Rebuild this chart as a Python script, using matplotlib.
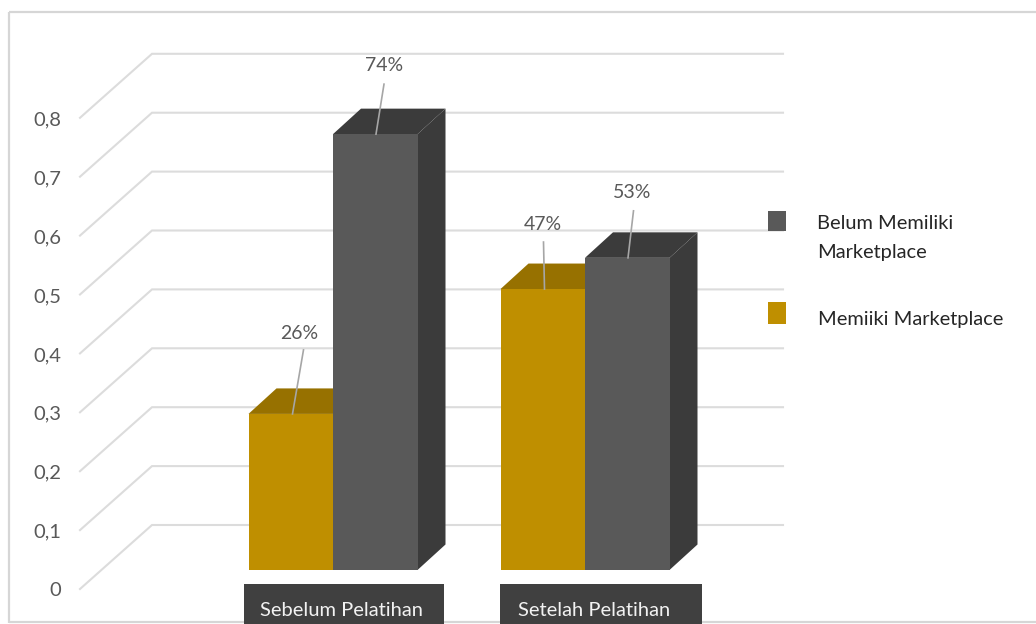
'''
bar chart with fake 3D boxes, marketplace before / after training
'''
# Load packages -------------------------------------------
import matplotlib
matplotlib.use('Agg')
import matplotlib.pyplot as plt
from matplotlib.patches import Polygon, Rectangle

# Data ----------------------------------------------------
categories = ['Sebelum Pelatihan', 'Setelah Pelatihan']
memiliki = [0.265, 0.477]
belum = [0.74, 0.53]
memiliki_labels = ['26%', '47%']
belum_labels = ['74%', '53%']
tick_values = [0, 0.1, 0.2, 0.3, 0.4, 0.5, 0.6, 0.7, 0.8]
tick_labels = ['0', '0,1', '0,2', '0,3', '0,4', '0,5', '0,6', '0,7', '0,8']

# Style ---------------------------------------------------
W, H = 1036, 624
plt.rcParams['font.family'] = ['Lato', 'DejaVu Sans']
gold, gold_dark = '#BF8F00', '#977100'
grey, grey_dark = '#595959', '#3B3B3B'
grid_col = '#DCDCDC'
txt_col = '#595959'

# Axes scale: one category = 252 px, one unit = 589 px
x0_px, y0_px = 333, 570
cat_px, val_px = 252, 589
bar_w = 84.5 / cat_px
depth_x, depth_y = 28 / cat_px, 25.5 / val_px


def px(x, y):
    # pixel position in the picture -> axes data
    return (x - x0_px) / cat_px, (y0_px - y) / val_px


fig = plt.figure(figsize=(W / 100, H / 100), dpi=100)
ax = fig.add_axes([0, 0, 1, 1])
ax.set_xlim(px(0, 0)[0], px(W, 0)[0])
ax.set_ylim(px(0, H)[1], px(0, 0)[1])
ax.axis('off')

# Frame ---------------------------------------------------
for a, b in [((9, 623), (9, 12)), ((9, 12), (W, 12)), ((9, 622), (W, 622))]:
    xa, ya = px(*a)
    xb, yb = px(*b)
    ax.plot([xa, xb], [ya, yb], color='#D6D6D6', lw=1.6, zorder=1, solid_capstyle='butt')

# Gridlines and axis labels -------------------------------
wall_dx, wall_dy = 72 / cat_px, 64 / val_px
front_x = px(80, 0)[0]
end_x = px(783, 0)[0]
floor = px(0, 589)[1]
for v, lab in zip(tick_values, tick_labels):
    y = floor + v
    ax.plot([front_x, front_x + wall_dx, end_x], [y, y + wall_dy, y + wall_dy],
            color=grid_col, lw=1.5, zorder=1, solid_joinstyle='miter')
    ax.text(px(61, 0)[0], y - 2 / val_px, lab, ha='right', va='center',
            fontsize=14.5, color=txt_col)


# Bars ----------------------------------------------------
def box(x_left, value, front, dark):
    x_right = x_left + bar_w
    ax.bar(x_left, value, bar_w, align='edge', color=front, zorder=4)
    ax.add_patch(Polygon([(x_left, value), (x_left + depth_x, value + depth_y),
                          (x_right + depth_x, value + depth_y), (x_right, value)],
                         closed=True, fc=dark, ec='none', zorder=3))
    ax.add_patch(Polygon([(x_right, 0), (x_right + depth_x, depth_y),
                          (x_right + depth_x, value + depth_y), (x_right, value)],
                         closed=True, fc=dark, ec='none', zorder=3))


for i in range(len(categories)):
    box(i - bar_w, memiliki[i], gold, gold_dark)
for i in range(len(categories)):
    box(i, belum[i], grey, grey_dark)


# Data labels with leader lines ---------------------------
def leader(x_bar, value, text, foot_px, tail_px, text_px):
    x_foot = x_bar + foot_px / cat_px
    xt = x_foot + tail_px[0] / cat_px
    yt = value + tail_px[1] / val_px
    ax.plot([x_foot, xt], [value, yt], color='#A6A6A6', lw=1.2, zorder=6)
    ax.text(x_foot + text_px[0] / cat_px, value + text_px[1] / val_px, text,
            ha='center', va='center', fontsize=14, color=txt_col, zorder=7)


mem_layout = [(44, (11, 64), (7, 80)), (44, (-1, 47), (-2, 65))]
bel_layout = [(43, (8, 50), (8, 69)), (43, (5.5, 47), (4, 65))]
for i in range(len(categories)):
    foot, tail, txt = mem_layout[i]
    leader(i - bar_w, memiliki[i], memiliki_labels[i], foot, tail, txt)
    foot, tail, txt = bel_layout[i]
    leader(i, belum[i], belum_labels[i], foot, tail, txt)

# Category boxes ------------------------------------------
box_left = [244, 500]
box_right = [444, 702]
box_text = [342, 594.5]
for i, cat in enumerate(categories):
    xl = px(box_left[i], 0)[0]
    xr = px(box_right[i], 0)[0]
    yt, yb = px(0, 584)[1], px(0, 624)[1]
    ax.add_patch(Rectangle((xl, yb), xr - xl, yt - yb, fc='#404040', ec='none', zorder=5))
    ax.text(px(box_text[i], 0)[0], px(0, 611)[1], cat, ha='center', va='center',
            fontsize=14.5, color='#F2F2F2', zorder=6)

# Legend --------------------------------------------------
legend_items = [('Belum Memiliki\nMarketplace', grey, 211, 231, 817, 238),
                ('Memiiki Marketplace', gold, 302, 324, 818, 319)]
for lab, col, top, bot, tx, ty in legend_items:
    xl = px(768, 0)[0]
    xr = px(786, 0)[0]
    ax.add_patch(Rectangle((xl, px(0, bot)[1]), xr - xl, (bot - top) / val_px,
                           fc=col, ec='none', zorder=3))
    ax.text(px(tx, 0)[0], px(0, ty)[1], lab, ha='left', va='center', fontsize=14.4,
            color='#262626', linespacing=1.85, zorder=3)

# Save plot -----------------------------------------------
fig.savefig('out.png', dpi=100, facecolor='white')
